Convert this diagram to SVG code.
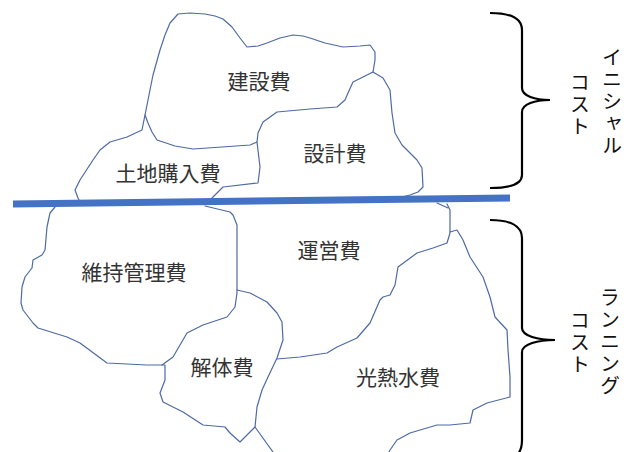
<svg xmlns="http://www.w3.org/2000/svg" width="637" height="452" viewBox="0 0 637 452">
<style>
.o{fill:none;stroke:#4d6aa3;stroke-width:1.2;stroke-linejoin:round;stroke-linecap:round}
.l{font-family:"Noto Sans CJK JP","Noto Sans",sans-serif;font-size:21px;fill:#333;text-anchor:middle}
.v{font-family:"Noto Sans CJK JP","Noto Sans",sans-serif;font-size:20px;fill:#111;writing-mode:vertical-rl;letter-spacing:2px}
.b{fill:none;stroke:#000;stroke-width:2.2}
</style>
<rect width="637" height="452" fill="#fff"/>
<g id="kensetsu">
<path class="o" d="M178,14 L190,13 L205,14 L215,16 L223,19 L232,27 L240,38 L247,47 L258,46 L267,43 L280,38 L293,35 L303,36 L310,38 L325,43 L343,47 L360,46 L370,45 L375,52 L375,60 L373,72 L363,77 L353,82 L348,93 L345,100 L337,107 L310,109 L277,112 L263,122 L258,133 L257,142 L250,145 L222,147 L193,149 L175,146 L157,140 L152,132 L148,123 L145,115 L148,100 L153,75 L160,50 L165,35 L170,23 Z"/>
<text class="l" x="259" y="89">建設費</text>
</g>
<g id="tochi">
<path class="o" d="M145,115 L142,130 L127,137 L110,142 L100,150 L93,160 L80,180 L75,190 L78,198 L80,202"/>
<path class="o" d="M257,142 L260,167 L258,183 L223,187 L215,195 L207,203"/>
<text class="l" x="168" y="181">土地購入費</text>
</g>
<g id="sekkei">
<path class="o" d="M373,72 L383,78 L390,90 L392,113 L395,133 L402,145 L417,160 L422,168 L423,187 L418,192 L410,195 L398,198"/>
<path class="o" d="M437,203 L448,208"/>
<text class="l" x="335" y="161">設計費</text>
</g>
<g id="iji">
<path class="o" d="M55,207 L50,213 L47,227 L45,250 L42,255 L33,260 L32,268 L25,277 L22,287 L21,303 L23,310 L33,323 L38,328 L67,337 L80,343 L107,363 L147,365 L162,365 L173,357 L187,333 L203,325 L227,317 L235,307 L237,293 L237,225 L233,215 L230,212 L205,206"/>
<text class="l" x="134" y="280">維持管理費</text>
</g>
<g id="kaitai">
<path class="o" d="M237,290 L250,293 L267,302 L277,313 L282,322 L283,340 L277,358 L268,377 L262,390 L257,407 L255,427 L250,432 L240,442 L230,433 L225,427 L203,425 L183,412 L163,402 L160,393 L165,380 L165,365 L162,365"/>
<path class="o" d="M255,427 L273,452"/>
<text class="l" x="222" y="375">解体費</text>
</g>
<g id="unei">
<path class="o" d="M447,204 L450,210 L450,233 L447,243 L433,248 L417,253 L398,267 L395,285 L390,295 L383,297 L380,300 L370,323 L357,338 L337,347 L327,353 L300,357 L277,359"/>
<text class="l" x="329" y="258">運営費</text>
</g>
<g id="kounetsu">
<path class="o" d="M450,232 L457,230 L463,240 L470,257 L483,277 L490,297 L495,317 L507,330 L508,350 L510,377 L510,397 L487,403 L473,410 L470,423 L450,425 L437,425 L410,433 L397,440 L390,450 L389,452"/>
<text class="l" x="398" y="385">光熱水費</text>
</g>
<g id="connectors">
<line x1="13" y1="204" x2="510" y2="198" stroke="#4472c4" stroke-width="7"/>
<path class="b" d="M490,13 C510,13 522,18 522,30 L522,88 C522,96 535,100 550,100 C535,100 522,104 522,112 L522,175 C522,184 510,188 490,188"/>
<path class="b" d="M490,220 C510,220 522,226 522,238 L522,328 C522,336 538,340 555,340 C538,340 522,344 522,352 L522,440 C522,448 520,452 517,455"/>
</g>
<g id="initial">
<text class="v" x="612" y="47">イニシャル</text>
<text class="v" x="580" y="72">コスト</text>
</g>
<g id="running">
<text class="v" x="610" y="287">ランニング</text>
<text class="v" x="580" y="310">コスト</text>
</g>
</svg>
